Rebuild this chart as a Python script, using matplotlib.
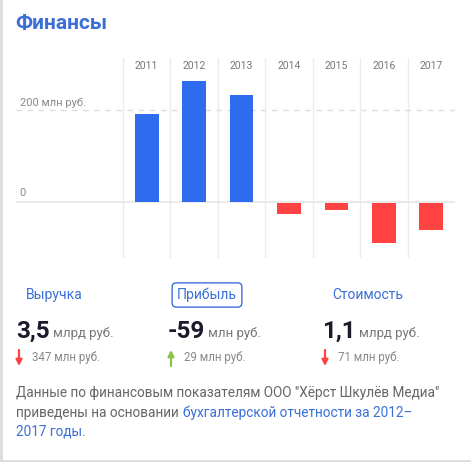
import numpy as np
import matplotlib.pyplot as plt

# data (млн руб.)
years = ['2011', '2012', '2013', '2014', '2015', '2016', '2017']
profit = [190, 262, 232, -25, -16, -88, -59]

tabs = ['Выручка', 'Прибыль', 'Стоимость']
big_vals = ['3,5', '-59', '1,1']
big_units = ['млрд руб.', 'млн руб.', 'млрд руб.']
deltas = ['347 млн руб.', '29 млн руб.', '71 млн руб.']
delta_up = [False, True, False]

W, H = 471, 462
BLUE = '#2f6bef'
TBLUE = '#3a6fd8'
RED = '#ff4242'
GREEN = '#8bc34a'
LINE = '#ececec'

plt.rcParams['font.family'] = ['Roboto', 'DejaVu Sans']

fig = plt.figure(figsize=(W / 100, H / 100), dpi=100)
fig.patch.set_facecolor('white')
renderer = fig.canvas.get_renderer()


def px(x, y):
    return x / W, 1 - y / H


def right_px(t):
    return t.get_window_extent(renderer).x1


# frame lines (left + bottom)
bg = fig.add_axes([0, 0, 1, 1])
bg.set_xlim(0, W)
bg.set_ylim(H, 0)
bg.axis('off')
bg.plot([1, 1], [0, H], color='#dcdcdc', lw=2)
bg.plot([0, W], [460.5, 460.5], color='#dcdcdc', lw=2)

fig.text(*px(15, 24), 'Финансы', color=TBLUE, fontsize=15, fontweight='bold', va='center')

# chart axes: px 16..455 wide, 58..258 tall
col_w = (455 - 123) / 7
left_pad = (123 - 16) / col_w
zero_px, k = 201.5, 0.46
ax = fig.add_axes([16 / W, 1 - 258 / H, (455 - 16) / W, 200 / H])
ax.set_xlim(-0.5 - left_pad, 6.5)
ax.set_ylim(-(258 - zero_px) / k, (zero_px - 58) / k)
ax.axis('off')

x = np.arange(len(years))
for xi in x:
    ax.axvline(xi - 0.5, color=LINE, lw=1, zorder=0)
ax.axhline(0, color='#e6e6e6', lw=1.2, zorder=1)
ax.axhline(200, color='#dddddd', lw=1, ls=(0, (4, 4)), zorder=1)

colors = [BLUE if v >= 0 else RED for v in profit]
ax.bar(x, profit, width=0.5, color=colors, zorder=2,
       bottom=[0 if v >= 0 else -3 for v in profit])

for xi, yr in zip(x, years):
    ax.text(xi, 0.96, yr, transform=ax.get_xaxis_transform(), ha='center', va='center',
            fontsize=7.5, color='#777777')

ax.text(-0.5 - left_pad + 0.08, 200 + 4, '200 млн руб.', fontsize=8, color='#888888',
        va='bottom', ha='left')
ax.text(-0.5 - left_pad + 0.08, 8, '0', fontsize=8, color='#888888', va='bottom', ha='left')

# tabs
tab_x = [54, 207, 368]
for i, t in enumerate(tabs):
    if i == 1:
        fig.text(*px(tab_x[i], 295), t, color=TBLUE, fontsize=10, ha='center', va='center',
                 bbox=dict(boxstyle='round,pad=0.35,rounding_size=0.3', fc='white',
                           ec=TBLUE, lw=1))
    else:
        fig.text(*px(tab_x[i], 295), t, color=TBLUE, fontsize=10, ha='center', va='center')

# values
val_x = [16, 168, 322]
for i in range(3):
    tv = fig.text(*px(val_x[i], 331), big_vals[i], color='#1a1a2a', fontsize=17.5,
                  fontweight='bold', va='center')
    fig.text((right_px(tv) + 3) / W, 1 - 333 / H, big_units[i], color='#777777',
             fontsize=9.5, va='center')
    ax_x = val_x[i] + 3
    style = '-|>,head_length=0.35,head_width=0.18'
    if delta_up[i]:
        bg.annotate('', xy=(ax_x, 350), xytext=(ax_x, 366),
                    arrowprops=dict(arrowstyle=style, color=GREEN, lw=1.6,
                                    shrinkA=0, shrinkB=0))
    else:
        bg.annotate('', xy=(ax_x, 366), xytext=(ax_x, 350),
                    arrowprops=dict(arrowstyle=style, color=RED, lw=1.6,
                                    shrinkA=0, shrinkB=0))
    fig.text(*px(val_x[i] + 16, 358), deltas[i], color='#888888', fontsize=8.3, va='center')

# footer
FG = '#666666'
FS = 9.8
fig.text(*px(16, 393), 'Данные по финансовым показателям ООО "Хёрст Шкулёв Медиа"',
         color=FG, fontsize=FS, va='center')
t2 = fig.text(*px(16, 413), 'приведены на основании', color=FG, fontsize=FS, va='center')
fig.text((right_px(t2) + 4) / W, 1 - 413 / H, 'бухгалтерской отчетности за 2012–',
         color=TBLUE, fontsize=FS, va='center')
fig.text(*px(16, 432), '2017 годы.', color=TBLUE, fontsize=FS, va='center')

fig.savefig('out.png', dpi=100, facecolor='white')
